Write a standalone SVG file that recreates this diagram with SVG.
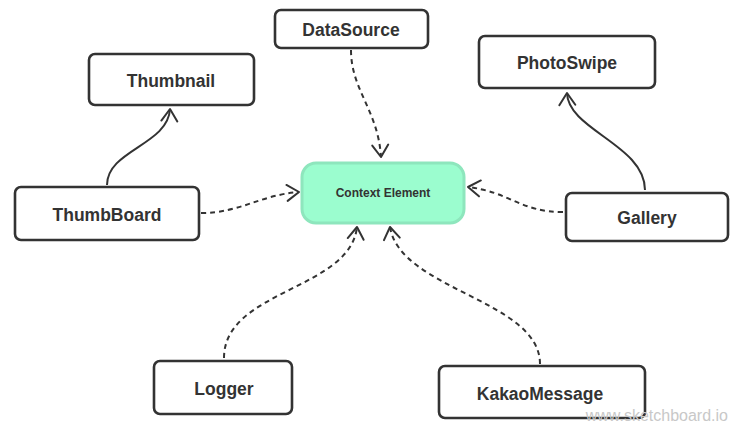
<svg xmlns="http://www.w3.org/2000/svg" width="743" height="435" viewBox="0 0 743 435">
<defs>
<marker id="arr" viewBox="-14 -10 16 20" markerWidth="16" markerHeight="20" refX="0" refY="0" orient="auto" markerUnits="userSpaceOnUse">
<path d="M-12,-8 L0,0 L-12,8" fill="none" stroke="#333" stroke-width="2" stroke-linecap="round" stroke-linejoin="round"/>
</marker>
</defs>
<style>
.box{fill:#fff;stroke:#333;stroke-width:2.6}
.lbl{font-family:"Liberation Sans",Arial,sans-serif;font-weight:bold;font-size:17.5px;fill:#333;text-anchor:middle;dominant-baseline:central}
.dash{fill:none;stroke:#333;stroke-width:2;stroke-dasharray:5,4}
.solid{fill:none;stroke:#333;stroke-width:2}
</style>
<rect width="743" height="435" fill="#fff"/>
<g id="connectors">
<path class="dash" d="M351,50 C351,90 378,110 381,157" marker-end="url(#arr)"/>
<path class="solid" d="M107,185 C107,150 168,145 170,109" marker-end="url(#arr)"/>
<path class="solid" d="M645,190 C645,145 568,130 567,93" marker-end="url(#arr)"/>
<path class="dash" d="M201,213 C240,213 260,195 299,192" marker-end="url(#arr)"/>
<path class="dash" d="M563,212 C520,212 510,192 468,187" marker-end="url(#arr)"/>
<path class="dash" d="M224,358 C224,290 350,290 357,227" marker-end="url(#arr)"/>
<path class="dash" d="M540,364 C540,300 400,290 390,227" marker-end="url(#arr)"/>
</g>
<g id="context">
<rect x="302" y="163" width="162" height="60" rx="14" fill="#9bfdcf" stroke="#8ee6bd" stroke-width="3"/>
<text class="lbl" x="383" y="193" style="font-size:12px">Context Element</text>
</g>
<g id="datasource">
<rect class="box" x="275" y="10" width="153" height="38" rx="6"/>
<text class="lbl" x="351" y="30">DataSource</text>
</g>
<g id="thumbnail">
<rect class="box" x="89" y="54" width="165" height="51" rx="6"/>
<text class="lbl" x="171" y="81">Thumbnail</text>
</g>
<g id="photoswipe">
<rect class="box" x="479" y="36" width="176" height="52" rx="6"/>
<text class="lbl" x="567" y="63">PhotoSwipe</text>
</g>
<g id="thumbboard">
<rect class="box" x="15" y="187" width="184" height="53" rx="6"/>
<text class="lbl" x="107" y="215">ThumbBoard</text>
</g>
<g id="gallery">
<rect class="box" x="566" y="193" width="162" height="48" rx="6"/>
<text class="lbl" x="647" y="218">Gallery</text>
</g>
<g id="logger">
<rect class="box" x="154" y="361" width="138" height="53" rx="6"/>
<text class="lbl" x="224" y="389">Logger</text>
</g>
<g id="kakaomessage">
<rect class="box" x="439" y="366" width="206" height="52" rx="6"/>
<text class="lbl" x="540" y="394">KakaoMessage</text>
</g>
<text x="728" y="415" font-family="Liberation Sans,Arial,sans-serif" font-size="16" fill="#c8c8c8" text-anchor="end" dominant-baseline="central">www.sketchboard.io</text>
</svg>
